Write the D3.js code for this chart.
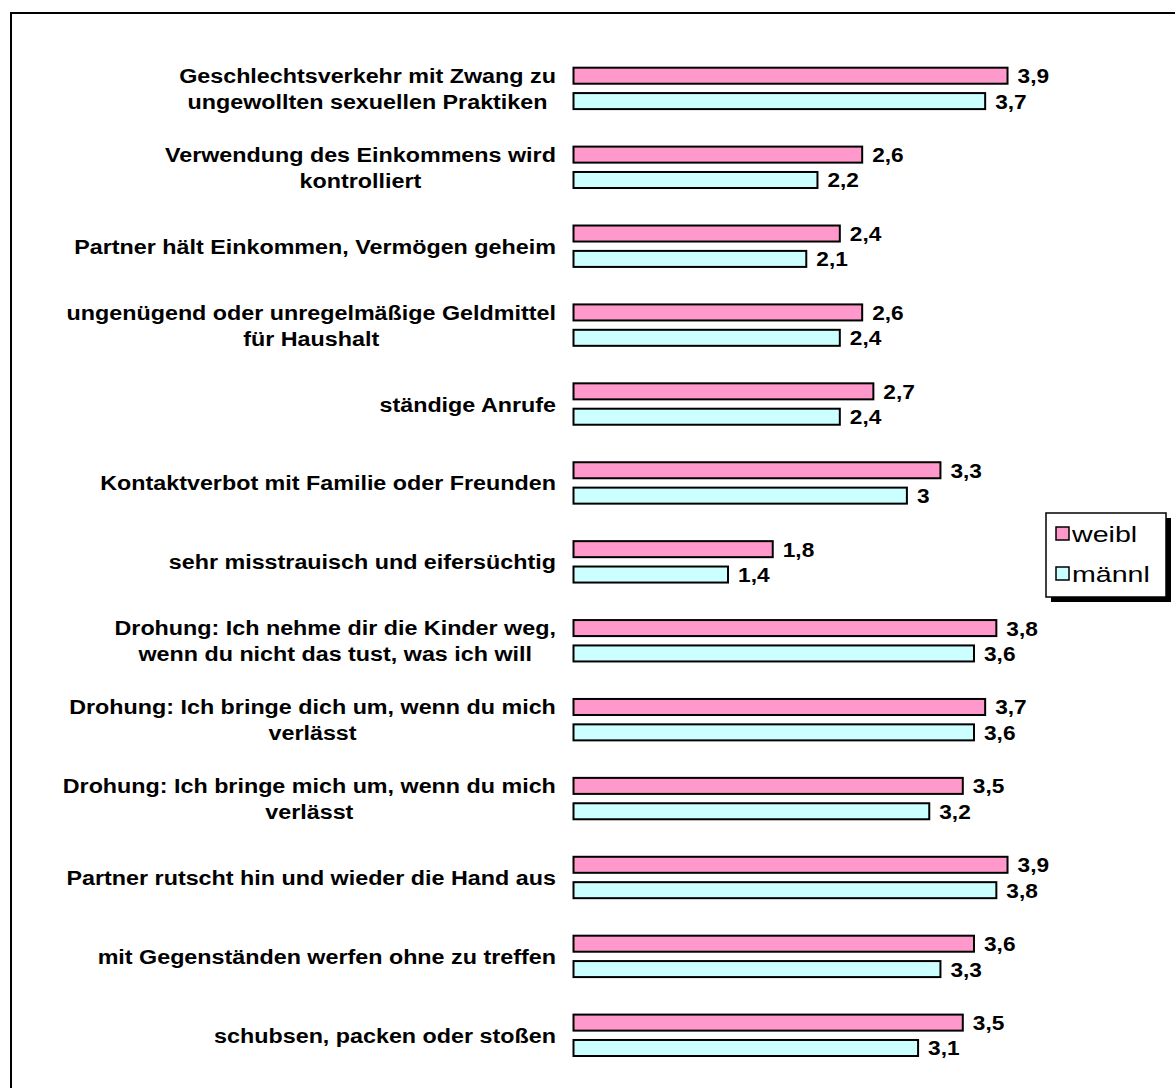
<!DOCTYPE html>
<html>
<head>
<meta charset="utf-8">
<script src="https://cdn.jsdelivr.net/npm/d3@7"></script>
<style>
  body { margin: 0; background: #fff; }
  svg { display: block; font-family: "Liberation Sans", Arial, sans-serif; }
  .cat { font-weight: bold; font-size: 21px; fill: #000; }
  .val { font-weight: bold; font-size: 21px; fill: #000; }
  .leg { font-size: 22px; fill: #000; }
</style>
</head>
<body>
<div class="svg-container"></div>
<script>
var width = 1175;
var height = 1088;

// categories, each an array of text lines
var categories = [
  ["Geschlechtsverkehr mit Zwang zu", "ungewollten sexuellen Praktiken"],
  ["Verwendung des Einkommens wird", "kontrolliert"],
  ["Partner hält Einkommen, Vermögen geheim"],
  ["ungenügend oder unregelmäßige Geldmittel", "für Haushalt"],
  ["ständige Anrufe"],
  ["Kontaktverbot mit Familie oder Freunden"],
  ["sehr misstrauisch und eifersüchtig"],
  ["Drohung: Ich nehme dir die Kinder weg,", "wenn du nicht das tust, was ich will"],
  ["Drohung: Ich bringe dich um, wenn du mich", "verlässt"],
  ["Drohung: Ich bringe mich um, wenn du mich", "verlässt"],
  ["Partner rutscht hin und wieder die Hand aus"],
  ["mit Gegenständen werfen ohne zu treffen"],
  ["schubsen, packen oder stoßen"]
];

var seriesNames = ["weibl", "männl"];
var seriesColors = ["#FF99CC", "#CCFFFF"];

var weibl = [3.9, 2.6, 2.4, 2.6, 2.7, 3.3, 1.8, 3.8, 3.7, 3.5, 3.9, 3.6, 3.5];
var maennl = [3.7, 2.2, 2.1, 2.4, 2.4, 3.0, 1.4, 3.6, 3.6, 3.2, 3.8, 3.3, 3.1];
var series = [weibl, maennl];

var formatVal = function(v) { return String(v).replace(".", ","); };

var svg = d3.select(".svg-container")
            .append("svg")
            .attr("width", width)
            .attr("height", height);

// outer frame (runs off the right and bottom edge)
svg.append("rect")
   .attr("x", 11).attr("y", 13)
   .attr("width", 1200).attr("height", 1100)
   .attr("fill", "none")
   .attr("stroke", "#000")
   .attr("stroke-width", 2);

// scales
var scaleX = d3.scaleLinear()
               .domain([0, 4])
               .range([573.5, 573.5 + 447.2]);

var scaleY = d3.scalePoint()
               .domain(d3.range(categories.length))
               .range([88.4, 1035.3]);

var inner = d3.scaleBand()
              .domain(d3.range(seriesNames.length))
              .range([-21.7, 21.7])
              .paddingInner(0.29);

var stretch = 1.11; // labels look horizontally stretched in the original
var labelRight = 556;

// category labels
categories.forEach(function(lines, i) {
  var g = svg.append("g");
  var t = g.append("text")
           .attr("class", "cat")
           .attr("text-anchor", "middle");
  var n = lines.length;
  lines.forEach(function(line, j) {
    t.append("tspan")
     .attr("x", 0)
     .attr("y", 7.5 + (j - (n - 1) / 2) * 26)
     .text(line);
  });
  var w = d3.max(t.selectAll("tspan").nodes(), function(el) { return el.getComputedTextLength(); });
  g.attr("transform", "translate(" + (labelRight - w * stretch / 2) + "," + scaleY(i) + ") scale(" + stretch + ",1)");
});

// bars and values
series.forEach(function(values, s) {
  var g = svg.append("g");

  g.selectAll("rect")
   .data(values)
   .enter()
   .append("rect")
   .attr("x", scaleX(0))
   .attr("y", function(d, i) { return scaleY(i) + inner(s) + 1; })
   .attr("width", function(d) { return scaleX(d) - scaleX(0) - 2; })
   .attr("height", inner.bandwidth() - 2)
   .attr("fill", seriesColors[s])
   .attr("stroke", "#000")
   .attr("stroke-width", 2);

  g.selectAll("text")
   .data(values)
   .enter()
   .append("text")
   .attr("class", "val")
   .attr("transform", function(d, i) {
     return "translate(" + (scaleX(d) + 8) + "," + (scaleY(i) + inner(s) + inner.bandwidth() / 2 + 7.5) + ") scale(1.08,1)";
   })
   .text(function(d) { return formatVal(d); });
});

// legend
var legend = svg.append("g").attr("transform", "translate(1046,513)");
legend.append("rect")
      .attr("x", 5).attr("y", 5)
      .attr("width", 120).attr("height", 84)
      .attr("fill", "#000");
legend.append("rect")
      .attr("x", 0).attr("y", 0)
      .attr("width", 120).attr("height", 84)
      .attr("fill", "#fff")
      .attr("stroke", "#000")
      .attr("stroke-width", 1.5);

seriesNames.forEach(function(name, s) {
  var cy = 21 + s * 40;
  legend.append("rect")
        .attr("x", 10).attr("y", cy - 7)
        .attr("width", 13).attr("height", 13)
        .attr("fill", seriesColors[s])
        .attr("stroke", "#000")
        .attr("stroke-width", 1.5);
  legend.append("text")
        .attr("class", "leg")
        .attr("transform", "translate(26," + (cy + 8) + ") scale(1.3,1)")
        .text(name);
});
</script>
</body>
</html>
